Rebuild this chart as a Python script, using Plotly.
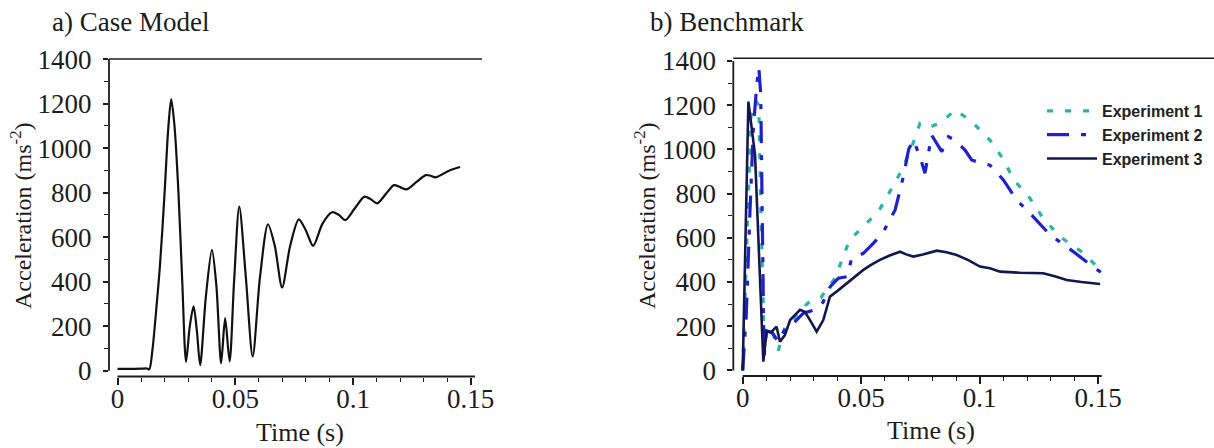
import plotly.graph_objects as go

# ---- data: a) Case Model ----
case_t = [0.000, 0.005, 0.010, 0.0125, 0.0135, 0.0148, 0.0165, 0.0181, 0.0200, 0.0215, 0.0228,
          0.0242, 0.0259, 0.0275, 0.0291, 0.0307, 0.0323, 0.0337, 0.0351, 0.0375, 0.0401, 0.0420,
          0.0440, 0.0457, 0.0476, 0.0495, 0.0517, 0.0545, 0.0574, 0.0605, 0.0639, 0.0668, 0.0699,
          0.0733, 0.0770, 0.0800, 0.0831, 0.0870, 0.0911, 0.0940, 0.0968, 0.1008, 0.1049, 0.1076,
          0.1103, 0.1140, 0.1174, 0.1200, 0.1228, 0.1270, 0.1309, 0.1330, 0.1351, 0.1410, 0.1455]
case_a = [8, 8, 9, 10, 6, 90, 280, 483, 800, 1080, 1220,
          1100, 797, 400, 40, 200, 289, 180, 25, 330, 543, 380,
          34, 236, 42, 400, 737, 420, 64, 420, 658, 560, 374,
          560, 680, 630, 561, 660, 712, 700, 677, 730, 782, 770,
          752, 795, 834, 825, 815, 848, 879, 876, 869, 900, 915]

# ---- data: b) Benchmark ----
exp1_t = [0.0, 0.0015, 0.0035, 0.0055, 0.0068, 0.0075, 0.0082, 0.0090, 0.0100, 0.0125, 0.0150,
          0.0180, 0.0220, 0.0260, 0.0290, 0.0330, 0.0389, 0.0418, 0.0451, 0.0515, 0.0572, 0.0621,
          0.0664, 0.0710, 0.0748, 0.0790, 0.0840, 0.0896, 0.0935, 0.0973, 0.1043, 0.1100, 0.1142,
          0.1212, 0.1268, 0.1339, 0.1430, 0.1510]
exp1_a = [0, 500, 1150, 1220, 1200, 800, 450, 150, 170, 180, 90,
          200, 240, 290, 319, 330, 417, 500, 590, 658, 718, 809,
          892, 1000, 1118, 1100, 1125, 1178, 1150, 1118, 1042, 955, 865,
          779, 688, 605, 537, 455]

exp2_t = [0.0, 0.0015, 0.0030, 0.0045, 0.0060, 0.0068, 0.0076, 0.0083, 0.0090, 0.0100, 0.0125,
          0.0150, 0.0180, 0.0213, 0.0256, 0.0290, 0.0333, 0.0370, 0.0403, 0.0439, 0.0460, 0.0509,
          0.0558, 0.0600, 0.0621, 0.0643, 0.0678, 0.0700, 0.0720, 0.0748, 0.0769, 0.0797, 0.0840,
          0.0868, 0.0896, 0.0938, 0.0966, 0.1000, 0.1043, 0.1100, 0.1156, 0.1212, 0.1297, 0.1367,
          0.1479, 0.1515]
exp2_a = [0, 250, 700, 1100, 1300, 1370, 1250, 600, 60, 180, 170,
          130, 190, 213, 259, 270, 296, 380, 417, 424, 507, 530,
          583, 640, 681, 726, 877, 1000, 1042, 967, 892, 1065, 990,
          1057, 1042, 997, 952, 940, 929, 862, 771, 711, 613, 560,
          469, 441]

exp3_t = [0.0, 0.0010, 0.0024, 0.0052, 0.0073, 0.0087, 0.0101, 0.0122, 0.0143, 0.0157, 0.0178,
          0.0200, 0.0242, 0.0262, 0.0284, 0.0312, 0.0340, 0.0368, 0.0400, 0.0439, 0.0470, 0.0509,
          0.0545, 0.0579, 0.0620, 0.0664, 0.0690, 0.0720, 0.0760, 0.0819, 0.0860, 0.0903, 0.0950,
          0.1001, 0.1043, 0.1086, 0.1170, 0.1268, 0.1320, 0.1367, 0.1430, 0.1508]
exp3_a = [0, 500, 1216, 975, 373, 40, 175, 175, 198, 130, 160,
          228, 274, 265, 228, 176, 228, 334, 360, 394, 420, 455,
          480, 500, 520, 537, 525, 515, 525, 542, 535, 522, 500,
          470, 462, 447, 442, 440, 425, 409, 400, 391]

series_names = ["Experiment 1", "Experiment 2", "Experiment 3"]
panel_titles = ["a) Case Model", "b) Benchmark"]
x_title = "Time (s)"
y_title = "Acceleration (ms<sup>-2</sup>)"
x_ticks = [0, 0.05, 0.1, 0.15]
x_tick_text = ["0", "0.05", "0.1", "0.15"]
x_minor = [0.01, 0.02, 0.03, 0.04, 0.06, 0.07, 0.08, 0.09, 0.11, 0.12, 0.13, 0.14]
y_ticks = [0, 200, 400, 600, 800, 1000, 1200, 1400]
y_minor = [100, 300, 500, 700, 900, 1100, 1300]

W, H = 1214, 448
SERIF = "Liberation Serif"
INK = "#1c1c1c"

fig = go.Figure()

fig.add_trace(go.Scatter(x=case_t, y=case_a, mode="lines", showlegend=False,
                         line=dict(color="#111111", width=2.2, shape="spline", smoothing=0.8),
                         xaxis="x", yaxis="y"))

fig.add_trace(go.Scatter(x=exp1_t, y=exp1_a, mode="lines", name=series_names[0],
                         line=dict(color="#2bb3a6", width=3.2, dash="6px,12px"),
                         xaxis="x2", yaxis="y2"))
fig.add_trace(go.Scatter(x=exp2_t, y=exp2_a, mode="lines", name=series_names[1],
                         line=dict(color="#1f22cc", width=3.2, dash="22px,12px,5px,12px"),
                         xaxis="x2", yaxis="y2"))
fig.add_trace(go.Scatter(x=exp3_t, y=exp3_a, mode="lines", name=series_names[2],
                         line=dict(color="#15164f", width=2.6),
                         xaxis="x2", yaxis="y2"))

def xaxis_cfg(dom, rng):
    return dict(domain=dom, range=rng, showline=False, showgrid=False, zeroline=False,
                automargin=False,
                tickmode="array", tickvals=x_ticks, ticktext=x_tick_text,
                ticks="outside", ticklen=7, tickwidth=1.6, tickcolor=INK,
                ticklabelstandoff=-9,
                tickfont=dict(family=SERIF, size=27, color=INK),
                minor=dict(tickmode="array", tickvals=x_minor, ticks="outside", ticklen=4,
                           tickwidth=1.4, tickcolor=INK, showgrid=False))

def yaxis_cfg(dom, rng, anchor):
    return dict(domain=dom, range=rng, anchor=anchor, showline=False, showgrid=False,
                zeroline=False, automargin=False, tickmode="array", tickvals=y_ticks,
                ticks="outside", ticklen=5, tickwidth=1.6, tickcolor=INK,
                ticklabelstandoff=6,
                tickfont=dict(family=SERIF, size=27, color=INK),
                minor=dict(tickmode="array", tickvals=y_minor, ticks="outside", ticklen=4,
                           tickwidth=1.4, tickcolor=INK, showgrid=False))

fig.update_layout(
    width=W, height=H, autosize=False,
    margin=dict(l=0, r=0, t=0, b=0, pad=0, autoexpand=False),
    paper_bgcolor="white", plot_bgcolor="white",
    xaxis=dict(anchor="y", **xaxis_cfg([109 / W, 482 / W], [-0.00361, 0.15478])),
    yaxis=yaxis_cfg([1 - 376.5 / H, 1 - 59 / H], [-26, 1400.5], "x"),
    xaxis2=dict(anchor="y2", **xaxis_cfg([733.3 / W, 1.0], [-0.00397, 0.19886])),
    yaxis2=yaxis_cfg([1 - 376 / H, 1 - 58.3 / H], [-25, 1412], "x2"),
    legend=dict(x=1042 / W, y=1 - 94 / H, xanchor="left", yanchor="top",
                bgcolor="rgba(0,0,0,0)", tracegroupgap=0, itemwidth=50,
                font=dict(family="Liberation Sans", size=16, color="#222222", weight="bold")),
)

# axis frame lines
for xr, yr, xend in (("x", "y", 0.1518), ("x2", "y2", 0.1515)):
    fig.add_shape(type="line", xref=f"{xr} domain", yref=f"{yr} domain", x0=0, x1=1, y0=1, y1=1,
                  line=dict(color=INK, width=1.6))
    fig.add_shape(type="line", xref=f"{xr} domain", yref=yr, x0=0, x1=0, y0=0, y1=1400,
                  line=dict(color=INK, width=1.8))
    fig.add_shape(type="line", xref=xr, yref=f"{yr} domain", x0=0, x1=xend, y0=0, y1=0,
                  line=dict(color=INK, width=2))

def ann(size):
    return dict(xref="paper", yref="paper", showarrow=False,
                font=dict(family=SERIF, size=size, color=INK))

fig.add_annotation(text=panel_titles[0], x=50 / W, y=1 - 22 / H, xanchor="left", yanchor="middle", **ann(27))
fig.add_annotation(text=panel_titles[1], x=648 / W, y=1 - 22 / H, xanchor="left", yanchor="middle", **ann(27))
fig.add_annotation(text=x_title, x=300 / W, y=1 - 432 / H, xanchor="center", yanchor="middle", **ann(26))
fig.add_annotation(text=x_title, x=931 / W, y=1 - 430 / H, xanchor="center", yanchor="middle", **ann(26))
fig.add_annotation(text=y_title, x=21 / W, y=1 - 216 / H, xanchor="center", yanchor="middle", textangle=-90, **ann(24))
fig.add_annotation(text=y_title, x=645 / W, y=1 - 216 / H, xanchor="center", yanchor="middle", textangle=-90, **ann(24))

fig.write_html("out.html", config={"displayModeBar": False, "responsive": False},
               post_script="document.body.style.margin='0';document.body.style.overflow='hidden';")
